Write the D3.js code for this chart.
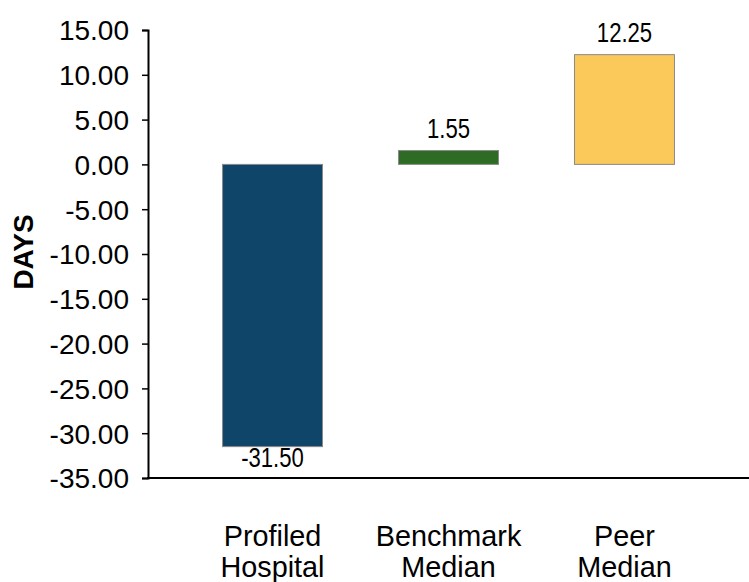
<!DOCTYPE html>
<html><head><meta charset="utf-8">
<script src="https://cdn.jsdelivr.net/npm/d3@7"></script>
<style>
html,body{margin:0;padding:0;background:#fff;}
svg{display:block;font-family:"Liberation Sans",Arial,sans-serif;}
</style></head>
<body><svg id="c" width="749" height="582"></svg>
<script>
const categories = [["Profiled","Hospital"],["Benchmark","Median"],["Peer","Median"]];
const values = [-31.50, 1.55, 12.25];
const colors = ["#10456A", "#2E6B24", "#FBC85A"];
const yTicks = [15, 10, 5, 0, -5, -10, -15, -20, -25, -30, -35];
const yTitle = "DAYS";

const fmt = d => d3.format(".2f")(d).replace("\u2212", "-");

const svg = d3.select("#c");
const W = 749, H = 582;
const m = {left: 148, right: 0, top: 30, bottom: 104};
const y = d3.scaleLinear().domain([-35, 15]).range([H - m.bottom, m.top]);
const x = d3.scaleBand().domain(d3.range(values.length))
  .range([m.left, W - m.right]).paddingInner(0.432).paddingOuter(0.4235);

// bars
svg.append("g").selectAll("rect").data(values).join("rect")
  .attr("x", (d,i) => x(i))
  .attr("width", x.bandwidth())
  .attr("y", d => y(Math.max(0,d)))
  .attr("height", d => Math.abs(y(d) - y(0)))
  .attr("fill", (d,i) => colors[i])
  .attr("stroke", "#8a8a8a").attr("stroke-width", 1);

// y axis
const ya = svg.append("g").attr("transform", `translate(${m.left},0)`)
  .call(d3.axisLeft(y).tickValues(yTicks).tickFormat(fmt).tickSizeOuter(0).tickSize(6).tickPadding(13));
ya.select(".domain").attr("stroke", "#000").attr("stroke-width", 2);
ya.selectAll(".tick line").attr("stroke", "#000").attr("stroke-width", 1.5);
ya.selectAll(".tick text").attr("font-size", 28).attr("fill", "#000")
  .attr("font-family", '"Liberation Sans",Arial,sans-serif').attr("dy", "0.35em");

// x axis line
svg.append("line").attr("x1", m.left - 1).attr("x2", W)
  .attr("y1", y(-35)).attr("y2", y(-35))
  .attr("stroke", "#000").attr("stroke-width", 2);

// x labels
const xl = svg.append("g").selectAll("text").data(categories).join("text")
  .attr("text-anchor", "middle").attr("font-size", 28.8).attr("fill", "#000");
xl.each(function(d,i){
  const t = d3.select(this);
  d.forEach((line, j) => {
    t.append("tspan").attr("x", x(i) + x.bandwidth()/2)
      .attr("y", H - m.bottom + 67.5 + j*31.5).text(line);
  });
});

// data labels (condensed)
svg.append("g").selectAll("text").data(values).join("text")
  .attr("text-anchor", "middle").attr("font-size", 28).attr("fill", "#000")
  .attr("transform", (d,i) => {
    const cx = x(i) + x.bandwidth()/2;
    const cy = d >= 0 ? y(d) - 13 : y(d) + 20.5;
    return `translate(${cx},${cy}) scale(0.79,1)`;
  })
  .text(fmt);

// y title
svg.append("text").attr("transform", `translate(33,${(y(15)+y(-35))/2 - 2}) rotate(-90)`)
  .attr("text-anchor", "middle").attr("font-size", 28).attr("font-weight", "bold")
  .attr("fill", "#000").text(yTitle);
</script></body></html>
